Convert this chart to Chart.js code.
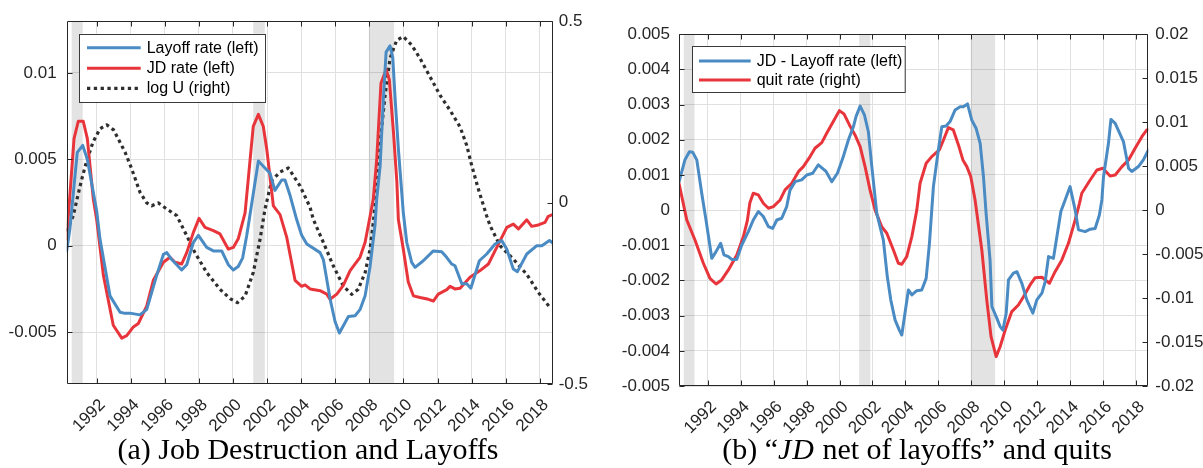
<!DOCTYPE html>
<html><head><meta charset="utf-8">
<script src="https://cdn.jsdelivr.net/npm/chart.js@4.4.1/dist/chart.umd.min.js"></script>
<style>
html,body{margin:0;padding:0;background:#fff;}
body{width:1203px;height:468px;overflow:hidden;position:relative;}
.wrap{position:absolute;top:0;height:440px;}
.cap{position:absolute;top:432px;font-family:"Liberation Serif","Times New Roman",serif;font-size:30px;color:#000;white-space:nowrap;text-align:center;line-height:34px;}
.cap i{font-style:italic;letter-spacing:1px;}
</style></head><body>
<div class="wrap" style="left:0;width:600px;"><canvas id="c1" width="600" height="440"></canvas></div>
<div class="wrap" style="left:600px;width:603px;"><canvas id="c2" width="603" height="440"></canvas></div>
<div class="cap" style="left:8px;width:600px;">(a) Job Destruction and Layoffs</div>
<div class="cap" style="left:617px;width:600px;">(b) “<i>JD</i> net of layoffs” and quits</div>
<script>
// ---------- shared axis data ----------
const xTickYears = [1992,1994,1996,1998,2000,2002,2004,2006,2008,2010,2012,2014,2016,2018];
const xTickLabels = ['1992','1994','1996','1998','2000','2002','2004','2006','2008','2010','2012','2014','2016','2018'];
const recessionStart = [1990.54, 2001.19, 2007.97];
const recessionEnd   = [1991.19, 2001.87, 2009.45];

// ---------- panel (a) ----------
const aLeftTicks = [-0.005, 0, 0.005, 0.01];
const aLeftTickLabels = ['-0.005','0','0.005','0.01'];
const aRightTicks = [-0.5, 0, 0.5];
const aRightTickLabels = ['-0.5','0','0.5'];

const layoffYears = [1990.25,1990.44,1990.87,1991.19,1991.46,1992.01,1992.20,1992.79,1993.38,1993.61,1993.96,1994.54,1994.94,1995.53,1995.92,1996.12,1996.41,1996.99,1997.29,1997.68,1997.97,1998.46,1998.85,1999.34,1999.73,2000.02,2000.31,2000.57,2000.81,2001.49,2001.78,2002.17,2002.46,2002.86,2003.05,2003.35,2003.74,2004.03,2004.33,2005.11,2005.30,2005.70,2005.99,2006.24,2006.77,2007.16,2007.45,2007.75,2008.04,2008.33,2008.43,2008.63,2008.82,2008.98,2009.21,2009.37,2009.51,2009.70,2009.99,2010.19,2010.48,2010.68,2011.16,2011.75,2012.24,2012.53,2012.83,2013.02,2013.42,2013.71,2013.95,2014.45,2014.88,2015.37,2015.76,2016.06,2016.44,2016.68,2017.23,2017.82,2018.11,2018.56,2018.75];
const layoffRate = [-0.0003,0.001,0.0054,0.0058,0.005,0.002,0.0004,-0.0029,-0.00385,-0.0039,-0.0039,-0.004,-0.0037,-0.0017,-0.0005,-0.0004,-0.0008,-0.0014,-0.0011,0.0002,0.0006,-0.0001,-0.0003,-0.0003,-0.0011,-0.0014,-0.0012,-0.0007,0.0006,0.0049,0.0046,0.0042,0.0032,0.0038,0.0038,0.0029,0.0015,0.0006,0.0001,-0.0004,-0.0008,-0.0031,-0.0044,-0.00505,-0.0041,-0.00405,-0.0037,-0.0029,-0.0012,0.0012,0.0027,0.0046,0.0085,0.0112,0.01156,0.0109,0.0085,0.0056,0.0019,0.0002,-0.00096,-0.00125,-0.00087,-0.0003,-0.00035,-0.00067,-0.00106,-0.00116,-0.0022,-0.0022,-0.00246,-0.00087,-0.00048,0.0001,0.0003,-0.0002,-0.00135,-0.0015,-0.00048,0,0,0.0003,0.00016];

const jdYears = [1990.25,1990.68,1990.93,1991.22,1991.46,1991.81,1992.01,1992.40,1992.98,1993.48,1993.77,1994.16,1994.45,1994.94,1995.33,1995.92,1996.31,1996.60,1996.99,1997.29,1997.68,1998.01,1998.36,1998.85,1999.24,1999.73,2000.02,2000.31,2000.71,2001.19,2001.49,2001.78,2001.98,2002.37,2002.76,2003.15,2003.64,2004.03,2004.23,2004.52,2005.11,2005.50,2005.69,2006.09,2006.47,2006.87,2007.45,2007.75,2008.04,2008.23,2008.43,2008.68,2008.98,2009.17,2009.41,2009.61,2009.70,2009.99,2010.28,2010.58,2010.97,2011.46,2011.75,2012.04,2012.54,2012.73,2013.02,2013.32,2013.90,2014.49,2014.98,2015.47,2016.06,2016.44,2016.74,2017.23,2017.52,2017.91,2018.30,2018.49,2018.75];
const jdRate = [0.0004,0.0062,0.0072,0.0072,0.0062,0.0027,0.0015,-0.0017,-0.0046,-0.00535,-0.0052,-0.0047,-0.0045,-0.0035,-0.002,-0.00096,-0.00067,-0.00096,-0.00106,-0.0004,0.00077,0.00158,0.00106,0.00087,0.00068,-0.0002,-0.0001,0.0004,0.0019,0.0069,0.0076,0.0069,0.0056,0.0023,0.0018,0.0005,-0.002,-0.00235,-0.00227,-0.0025,-0.0026,-0.0028,-0.0031,-0.0028,-0.0023,-0.00144,-0.00067,0.0002,0.0017,0.0027,0.005,0.0094,0.0102,0.0096,0.0066,0.0037,0.0015,-0.0002,-0.0021,-0.0029,-0.003,-0.0031,-0.0032,-0.0028,-0.00254,-0.00235,-0.0025,-0.00246,-0.00183,-0.00144,-0.00106,-0.0001,0.00106,0.00125,0.00097,0.0015,0.00112,0.0012,0.00135,0.0017,0.0018];

const logUYears = [1990.25,1990.63,1990.86,1991.11,1991.40,1991.79,1992.20,1992.60,1993.00,1993.67,1994.06,1994.55,1994.94,1995.24,1995.62,1996.12,1996.70,1997.19,1997.77,1998.46,1999.24,1999.83,2000.26,2000.71,2001.19,2001.59,2001.88,2002.27,2002.76,2003.25,2003.93,2004.52,2004.71,2005.30,2005.89,2006.47,2006.97,2007.35,2007.75,2008.04,2008.23,2008.33,2008.63,2008.92,2009.21,2009.60,2009.99,2010.48,2010.97,2011.56,2012.15,2012.73,2013.32,2013.71,2014.00,2014.39,2014.88,2015.08,2015.66,2016.44,2017.23,2017.91,2018.60];
const logU = [-0.08,-0.037,0.01,0.06,0.111,0.166,0.203,0.214,0.2,0.139,0.093,0.028,-0.001,-0.009,-0.001,-0.018,-0.036,-0.082,-0.138,-0.193,-0.239,-0.265,-0.276,-0.258,-0.193,-0.101,-0.018,0.06,0.084,0.095,0.046,-0.013,-0.046,-0.11,-0.175,-0.23,-0.253,-0.239,-0.193,-0.129,-0.055,-0.009,0.166,0.295,0.397,0.447,0.457,0.434,0.397,0.346,0.295,0.254,0.208,0.157,0.102,0.037,-0.037,-0.064,-0.119,-0.156,-0.198,-0.248,-0.29];

// ---------- panel (b) ----------
const bLeftTicks = [-0.005,-0.004,-0.003,-0.002,-0.001,0,0.001,0.002,0.003,0.004,0.005];
const bLeftTickLabels = ['-0.005','-0.004','-0.003','-0.002','-0.001','0','0.001','0.002','0.003','0.004','0.005'];
const bRightTicks = [-0.02,-0.015,-0.01,-0.005,0,0.005,0.01,0.015,0.02];
const bRightTickLabels = ['-0.02','-0.015','-0.01','-0.005','0','0.005','0.01','0.015','0.02'];

const netYears = [1990.25,1990.61,1990.88,1991.08,1991.33,1991.63,1991.89,1992.24,1992.50,1992.78,1992.98,1993.25,1993.45,1993.76,1994.06,1994.46,1994.76,1995.07,1995.37,1995.68,1995.94,1996.19,1996.49,1996.79,1996.99,1997.30,1997.70,1998.01,1998.37,1998.71,1999.18,1999.53,1999.87,2000.20,2000.54,2000.84,2001.00,2001.25,2001.51,2001.75,2001.96,2002.26,2002.66,2002.90,2003.11,2003.37,2003.63,2003.78,2004.18,2004.39,2004.69,2004.99,2005.26,2005.46,2005.60,2005.70,2006.00,2006.21,2006.47,2006.71,2007.02,2007.32,2007.52,2007.77,2008.03,2008.29,2008.54,2008.74,2008.90,2009.14,2009.25,2009.55,2009.75,2009.92,2010.12,2010.26,2010.56,2010.77,2011.07,2011.37,2011.74,2011.98,2012.29,2012.49,2012.69,2012.99,2013.20,2013.44,2013.70,2014.00,2014.31,2014.51,2014.92,2015.22,2015.52,2015.78,2015.93,2016.03,2016.33,2016.48,2016.74,2017.24,2017.55,2017.75,2018.15,2018.45,2018.76];
const jdNetLayoff = [0.0008,0.00143,0.00166,0.00165,0.00143,0.00048,-0.00028,-0.00137,-0.00118,-0.00094,-0.00127,-0.00132,-0.0014,-0.0014,-0.00099,-0.00061,-0.00028,-0.00004,-0.00018,-0.00047,-0.00052,-0.00028,-0.00023,0.0001,0.00057,0.00081,0.00086,0.001,0.00105,0.00129,0.0011,0.00081,0.00105,0.00148,0.002,0.00237,0.00266,0.00296,0.00271,0.00223,0.00124,-0.00009,-0.00085,-0.00189,-0.00255,-0.00312,-0.00341,-0.00355,-0.00227,-0.00241,-0.00229,-0.00227,-0.00194,-0.00094,0,0.00067,0.00171,0.00237,0.00239,0.00252,0.00285,0.00294,0.00294,0.00302,0.00256,0.00233,0.0019,0.00095,-0.00009,-0.00142,-0.00274,-0.00307,-0.00331,-0.00341,-0.00293,-0.00198,-0.00179,-0.00175,-0.00208,-0.00255,-0.00293,-0.00255,-0.00236,-0.00203,-0.00132,-0.00137,-0.00075,-0.00004,0.00029,0.00067,0,-0.00056,-0.00061,-0.00054,-0.00052,-0.00014,0.00029,0.00095,0.0019,0.00258,0.00247,0.00195,0.00119,0.0011,0.00124,0.00143,0.00171];

const quitYears = [1990.25,1990.72,1991.22,1991.73,1992.13,1992.50,1992.84,1993.25,1993.76,1994.16,1994.40,1994.55,1994.76,1995.07,1995.37,1995.68,1995.98,1996.39,1996.69,1997.10,1997.50,1997.80,1998.21,1998.51,1998.92,1999.22,1999.62,1999.99,2000.27,2000.60,2000.94,2001.25,2001.55,2001.85,2002.16,2002.56,2002.87,2003.27,2003.57,2003.78,2004.08,2004.39,2004.69,2004.89,2005.26,2005.60,2006.06,2006.31,2006.61,2006.91,2007.22,2007.49,2007.73,2007.97,2008.23,2008.64,2008.94,2009.20,2009.51,2009.75,2010.06,2010.46,2010.86,2011.17,2011.57,2011.88,2012.29,2012.75,2013.09,2013.50,2013.90,2014.31,2014.57,2014.71,2015.22,2015.63,2015.99,2016.43,2016.74,2017.15,2017.55,2017.95,2018.36,2018.66,2018.76];
const quitRate = [0.00306,-0.00111,-0.00339,-0.00604,-0.00775,-0.0084,-0.00794,-0.0068,-0.0051,-0.003,-0.0012,0.0008,0.00192,0.00173,0.00078,0.00022,0.0004,0.00116,0.0023,0.00306,0.00438,0.00495,0.00609,0.00704,0.00768,0.00875,0.01007,0.01132,0.01094,0.00969,0.00855,0.00722,0.00495,0.0023,0,-0.00188,-0.00263,-0.00453,-0.00604,-0.00615,-0.00529,-0.00301,0,0.00306,0.00533,0.00609,0.00685,0.00798,0.00938,0.00912,0.00742,0.00571,0.00495,0.00381,0.00116,-0.00453,-0.01021,-0.01439,-0.01666,-0.01553,-0.01363,-0.01154,-0.01078,-0.00984,-0.00851,-0.00768,-0.00763,-0.00831,-0.007,-0.00566,-0.00377,-0.00111,0.00078,0.00192,0.00343,0.00457,0.00476,0.00389,0.004,0.00495,0.00571,0.00704,0.00836,0.00912,0.00915];

// ---------- styling ----------
const BLUE = '#4a8bc4', RED = '#e8353b', DOT = '#2e2e2e';
const AXIS = '#262626', GRID = '#e0e0e0';
const TICKFONT = {family:'Liberation Sans, Arial, sans-serif', size:17};
Chart.defaults.font.family = 'Liberation Sans, Arial, sans-serif';
Chart.defaults.color = AXIS;

function pts(xs, ys){ return xs.map((x,i)=>({x:x, y:ys[i]})); }

function framePlugin(cfg){
  return {
    id:'frame'+cfg.key,
    beforeDatasetsDraw(chart){
      const {ctx, chartArea:a, scales} = chart;
      const x = scales.x;
      ctx.save();
      ctx.fillStyle = 'rgba(0,0,0,0.11)';
      recessionStart.forEach((s,i)=>{
        const p0 = x.getPixelForValue(s), p1 = x.getPixelForValue(recessionEnd[i]);
        ctx.fillRect(p0, a.top, p1-p0, a.bottom-a.top);
      });
      ctx.restore();
    },
    afterDatasetsDraw(chart){
      const {ctx, chartArea:a, scales} = chart;
      ctx.save();
      // legend
      const L = cfg.legend;
      const bx = a.left + L.dx, by = a.top + L.dy;
      ctx.fillStyle = '#fff';
      ctx.fillRect(bx, by, L.w, L.h);
      ctx.strokeStyle = '#3a3a3a';
      ctx.lineWidth = 1;
      ctx.strokeRect(Math.round(bx)+0.5, Math.round(by)+0.5, L.w, L.h);
      ctx.font = '16px "Liberation Sans", Arial, sans-serif';
      ctx.textBaseline = 'middle';
      ctx.textAlign = 'left';
      chart.data.datasets.forEach((ds,i)=>{
        const ry = by + L.rows[i];
        ctx.beginPath();
        ctx.strokeStyle = ds.borderColor;
        ctx.lineWidth = ds.borderWidth;
        ctx.lineCap = 'butt';
        ctx.setLineDash(ds.borderDash || []);
        ctx.moveTo(bx + L.l0, ry); ctx.lineTo(bx + L.l1, ry);
        ctx.stroke();
        ctx.setLineDash([]);
        ctx.fillStyle = '#000';
        ctx.fillText(ds.label, bx + L.tx, ry + 0.5);
      });
      // box + inward ticks
      ctx.strokeStyle = AXIS; ctx.lineWidth = 1;
      const L0 = Math.round(a.left)+0.5, R0 = Math.round(a.right)-0.5, T0 = Math.round(a.top)+0.5, B0 = Math.round(a.bottom)-0.5;
      ctx.beginPath();
      ctx.rect(L0, T0, R0-L0, B0-T0);
      const tl = 5;
      scales.x.ticks.forEach(t=>{
        const px = Math.round(scales.x.getPixelForValue(t.value))+0.5;
        ctx.moveTo(px, B0); ctx.lineTo(px, B0-tl);
        ctx.moveTo(px, T0); ctx.lineTo(px, T0+tl);
      });
      scales.y.ticks.forEach(t=>{
        const py = Math.round(scales.y.getPixelForValue(t.value))+0.5;
        ctx.moveTo(L0, py); ctx.lineTo(L0+tl, py);
      });
      scales.y1.ticks.forEach(t=>{
        const py = Math.round(scales.y1.getPixelForValue(t.value))+0.5;
        ctx.moveTo(R0, py); ctx.lineTo(R0-tl, py);
      });
      ctx.stroke();
      ctx.restore();
    }
  };
}

function makeChart(id, cfg){
  return new Chart(document.getElementById(id), {
    type:'line',
    data:{datasets: cfg.datasets},
    options:{
      responsive:false, animation:false, devicePixelRatio:1,
      layout:{padding:{top:cfg.top, left:0, right:0, bottom:0}},
      plugins:{legend:{display:false}, tooltip:{enabled:false}},
      elements:{point:{radius:0}, line:{tension:0, borderJoinStyle:'round', borderCapStyle:'round'}},
      scales:{
        x:{type:'linear', min:1990.25, max:2018.75,
           afterBuildTicks:s=>{ s.ticks = xTickYears.map(v=>({value:v})); },
           afterFit:s=>{ s.height = cfg.xH; },
           ticks:{autoSkip:false, minRotation:45, maxRotation:45, padding:cfg.xPad, labelOffset:6, font:TICKFONT, color:AXIS,
                  callback:(v,i)=>xTickLabels[i]},
           grid:{color:GRID, lineWidth:1, drawTicks:false}, border:{display:false}},
        y:{type:'linear', position:'left', min:cfg.yMin, max:cfg.yMax,
           afterBuildTicks:s=>{ s.ticks = cfg.yTicks.map(v=>({value:v})); },
           afterFit:s=>{ s.width = cfg.yW; },
           ticks:{padding:cfg.yPad, font:TICKFONT, color:AXIS, callback:(v,i)=>cfg.yLabels[i]},
           grid:{color:GRID, lineWidth:1, drawTicks:false}, border:{display:false}},
        y1:{type:'linear', position:'right', min:cfg.y1Min, max:cfg.y1Max,
           afterBuildTicks:s=>{ s.ticks = cfg.y1Ticks.map(v=>({value:v})); },
           afterFit:s=>{ s.width = cfg.y1W; },
           ticks:{padding:cfg.y1Pad, font:TICKFONT, color:AXIS, callback:(v,i)=>cfg.y1Labels[i]},
           grid:{display:false, drawTicks:false}, border:{display:false}}
      }
    },
    plugins:[framePlugin(cfg)]
  });
}

makeChart('c1', {
  key:'a', top:21, xH:56, xPad:11, yW:66.7, yPad:10, y1W:47.3, y1Pad:6,
  yMin:-0.008, yMax:0.013, yTicks:aLeftTicks, yLabels:aLeftTickLabels,
  y1Min:-0.5, y1Max:0.5, y1Ticks:aRightTicks, y1Labels:aRightTickLabels,
  legend:{dx:12.6, dy:12.7, w:186, h:68, rows:[14,34.6,54.6], l0:7.7, l1:61.4, tx:67.4},
  datasets:[
    {label:'Layoff rate (left)', data:pts(layoffYears, layoffRate), yAxisID:'y', borderColor:BLUE, borderWidth:3, fill:false},
    {label:'JD rate (left)', data:pts(jdYears, jdRate), yAxisID:'y', borderColor:RED, borderWidth:3, fill:false},
    {label:'log U (right)', data:pts(logUYears, logU), yAxisID:'y1', borderColor:DOT, borderWidth:3.2, borderDash:[3.3,3.5], borderCapStyle:'butt', fill:false}
  ]
});

makeChart('c2', {
  key:'b', top:34.3, xH:54, xPad:11, yW:79, yPad:9, y1W:54.7, y1Pad:7,
  yMin:-0.005, yMax:0.005, yTicks:bLeftTicks, yLabels:bLeftTickLabels,
  y1Min:-0.02, y1Max:0.02, y1Ticks:bRightTicks, y1Labels:bRightTickLabels,
  legend:{dx:13.3, dy:12, w:212.7, h:46, rows:[14.7,33.7], l0:6.7, l1:58.4, tx:64.4},
  datasets:[
    {label:'JD - Layoff rate (left)', data:pts(netYears, jdNetLayoff), yAxisID:'y', borderColor:BLUE, borderWidth:3, fill:false},
    {label:'quit rate (right)', data:pts(quitYears, quitRate), yAxisID:'y1', borderColor:RED, borderWidth:3, fill:false}
  ]
});
</script>
</body></html>
